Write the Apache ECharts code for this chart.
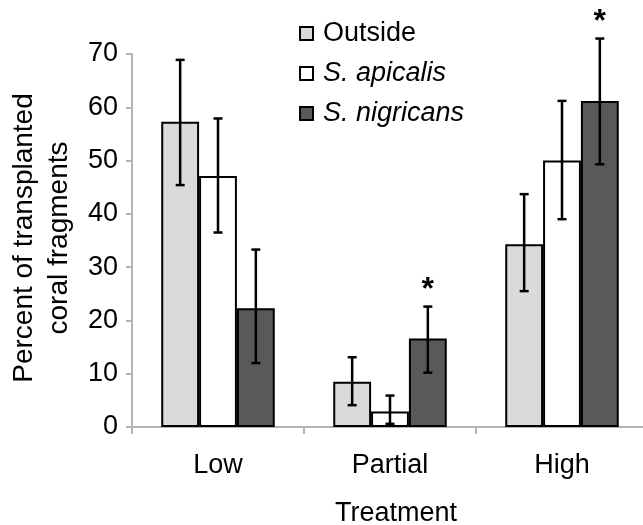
<!DOCTYPE html>
<html>
<head>
<meta charset="utf-8">
<script src="https://cdn.jsdelivr.net/npm/echarts@6/dist/echarts.min.js"></script>
<style>
  html, body { margin: 0; padding: 0; background: #fff; }
  #main { width: 643px; height: 525px; }
</style>
</head>
<body>
<div id="main"></div>
<script>
// treatment groups on the x axis
var categories = ['Low', 'Partial', 'High'];
var seriesNames = ['Outside', 'S. apicalis', 'S. nigricans'];
var yTicks = [0, 10, 20, 30, 40, 50, 60, 70];

// mean percent of transplanted coral fragments
var outsideMean = [57.3, 8.5, 34.3];
var apicalisMean = [47.1, 2.9, 50.0];
var nigricansMean = [22.3, 16.6, 61.2];

// error bar ends (low, high)
var outsideLow = [45.4, 4.1, 25.5];
var outsideHigh = [68.9, 13.1, 43.7];
var apicalisLow = [36.5, 0.6, 39.0];
var apicalisHigh = [57.9, 5.9, 61.2];
var nigricansLow = [12.0, 10.2, 49.3];
var nigricansHigh = [33.3, 22.6, 72.9];

// significance markers
var nigricansStars = ['', '*', '*'];

var FONT = 'Liberation Sans, Arial, sans-serif';
var fills = ['#d9dadc', '#ffffff', '#58595b'];
var gapRatio = 0.34;

function errData(lo, hi, stars) {
    return categories.map(function (c, i) {
        return [i, lo[i], hi[i], stars ? stars[i] : ''];
    });
}

function errSeries(k, lo, hi, stars) {
    return {
        type: 'custom',
        silent: true,
        z: 5,
        data: errData(lo, hi, stars),
        encode: { x: 0, y: [1, 2] },
        renderItem: function (params, api) {
            var cat = api.value(0);
            var band = api.size([1, 0])[0];
            var bw = band * (1 - gapRatio) / 3;
            var x = api.coord([cat, 0])[0] + (k - 1) * bw;
            var yLo = api.coord([cat, api.value(1)])[1];
            var yHi = api.coord([cat, api.value(2)])[1];
            var cap = 4.5;
            var st = { stroke: '#000', lineWidth: 2.5 };
            var kids = [
                { type: 'line', shape: { x1: x, y1: yLo, x2: x, y2: yHi }, style: st },
                { type: 'line', shape: { x1: x - cap, y1: yLo, x2: x + cap, y2: yLo }, style: st },
                { type: 'line', shape: { x1: x - cap, y1: yHi, x2: x + cap, y2: yHi }, style: st }
            ];
            var star = api.value(3);
            if (star) {
                kids.push({
                    type: 'text',
                    style: {
                        text: star, x: x, y: yHi - 16,
                        align: 'center', verticalAlign: 'middle',
                        fontSize: 32, fontWeight: 'bold', fontFamily: FONT, fill: '#000'
                    }
                });
            }
            return { type: 'group', children: kids };
        }
    };
}

function barSeries(name, data, k) {
    return {
        name: name,
        type: 'bar',
        data: data,
        barGap: '0%',
        barCategoryGap: (gapRatio * 100) + '%',
        itemStyle: { color: fills[k], borderColor: '#000', borderWidth: 2 },
        emphasis: { disabled: true }
    };
}

var myChart = echarts.init(document.getElementById('main'));

var option = {
    animation: false,
    textStyle: { fontFamily: FONT },
    grid: { left: 132, top: 54, width: 516, bottom: 98, outerBoundsMode: 'none', containLabel: false },
    legend: {
        orient: 'vertical',
        left: 294,
        top: 15,
        itemWidth: 13,
        itemHeight: 13,
        itemGap: 13,
        icon: 'rect',
        data: seriesNames,
        textStyle: {
            fontSize: 27, color: '#000', fontFamily: FONT, padding: [0, 0, 0, 5],
            rich: { it: { fontSize: 27, fontStyle: 'italic', fontFamily: FONT, color: '#000' } }
        },
        formatter: function (name) {
            return name.indexOf('S.') === 0 ? '{it|' + name + '}' : name;
        }
    },
    xAxis: {
        type: 'category',
        data: categories,
        name: 'Treatment',
        nameLocation: 'middle',
        nameGap: 73,
        nameTextStyle: { fontSize: 27, color: '#000', padding: [0, 0, 0, 12] },
        axisLine: { lineStyle: { color: '#b3b3b3', width: 2 } },
        axisTick: { show: true, length: 7, lineStyle: { color: '#b3b3b3', width: 2 } },
        axisLabel: { fontSize: 27, color: '#000', margin: 25 }
    },
    yAxis: {
        type: 'value',
        min: yTicks[0],
        max: yTicks[yTicks.length - 1],
        interval: 10,
        splitLine: { show: false },
        axisLine: { show: true, lineStyle: { color: '#b3b3b3', width: 2 } },
        axisTick: { show: true, length: 6, lineStyle: { color: '#b3b3b3', width: 2 } },
        axisLabel: { fontSize: 27, color: '#000', margin: 14 }
    },
    graphic: [{
        type: 'text',
        x: 42,
        y: 238,
        rotation: Math.PI / 2,
        style: {
            text: 'Percent of transplanted\ncoral fragments',
            align: 'center',
            verticalAlign: 'middle',
            fontSize: 28,
            lineHeight: 35,
            fontFamily: FONT,
            fill: '#000'
        }
    }],
    series: [
        barSeries(seriesNames[0], outsideMean, 0),
        barSeries(seriesNames[1], apicalisMean, 1),
        barSeries(seriesNames[2], nigricansMean, 2),
        errSeries(0, outsideLow, outsideHigh),
        errSeries(1, apicalisLow, apicalisHigh),
        errSeries(2, nigricansLow, nigricansHigh, nigricansStars)
    ]
};

myChart.setOption(option);
</script>
</body>
</html>
